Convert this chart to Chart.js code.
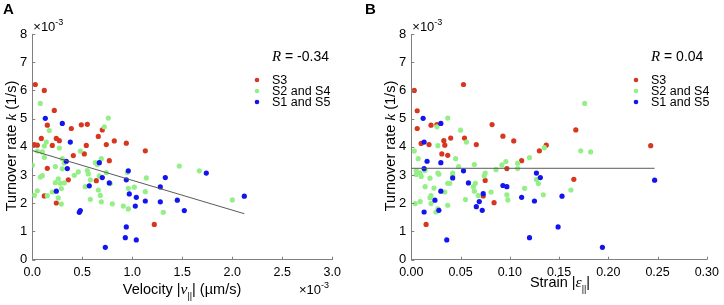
<!DOCTYPE html>
<html>
<head>
<meta charset="utf-8">
<script src="https://cdn.jsdelivr.net/npm/chart.js@4.4.0/dist/chart.umd.min.js"></script>
<style>
  body { margin: 0; background: #fff; }
  .panel { position: absolute; top: 0; width: 362px; height: 305px; }
</style>
</head>
<body>
<div class="panel" style="left:0"><canvas id="chartA" width="362" height="305"></canvas></div>
<div class="panel" style="left:362px"><canvas id="chartB" width="362" height="305"></canvas></div>
<script>
// values are in units of 1e-3 where the axis shows x10^-3

// Panel A: velocity (x1e-3 um/s) vs turnover rate (x1e-3 1/s)
const velS3 = [0.03, 0.12, 0.22, 0.15, 0.39, 0.49, 0.55, 0.70, 0.66, 0.09, 0.24, 0.27, 0.82, 0.94, 0.74,
    0.54, 0.02, 0.05, 0.20, 0.41, 0.52, 1.13, 0.77, 0.15, 0.36, 0.64, 0.12, 0.24, 1.22];
const kVelS3 = [6.21, 6.00, 5.29, 4.77, 4.65, 4.78, 4.80, 4.60, 4.37, 4.30, 4.30, 4.22, 4.21, 4.13, 4.08,
    4.05, 4.08, 4.06, 4.05, 3.69, 3.75, 3.86, 3.51, 3.24, 2.83, 2.80, 2.26, 2.01, 1.25];

const velS24 = [0.08, 0.76, 0.72, 0.17, 0.14, 0.12, 0.27, 0.05, 0.10, 0.48, 0.12, 0.30, 0.69, 0.32, 0.00,
    0.23, 0.63, 0.65, 1.47, 1.67, 0.30, 0.46, 0.55, 0.56, 0.74, 0.95, 0.42, 0.10, 0.08, 0.26,
    0.67, 1.14, 0.23, 0.28, 0.32, 0.58, 0.78, 0.53, 1.02, 0.96, 0.66, 0.29, 0.05, 0.02, 0.15,
    0.68, 1.13, 0.20, 0.26, 0.58, 0.69, 0.80, 0.29, 0.91, 0.96, 2.00, 1.31];
const kVelS24 = [5.54, 5.02, 4.71, 4.58, 4.17, 4.03, 3.96, 3.85, 3.82, 3.85, 3.63, 3.58, 3.58, 3.43, 3.35,
    3.30, 3.44, 3.37, 3.32, 3.15, 3.22, 3.11, 3.16, 3.04, 3.09, 3.09, 2.99, 2.98, 2.93, 2.87,
    2.97, 2.90, 2.73, 2.71, 2.72, 2.83, 2.70, 2.59, 2.57, 2.53, 2.47, 2.52, 2.44, 2.28, 2.27,
    2.28, 2.41, 2.40, 2.19, 2.14, 2.05, 1.98, 1.97, 1.90, 1.80, 2.12, 1.68];

const velS15 = [0.13, 0.30, 0.38, 0.34, 0.35, 0.67, 0.96, 1.33, 0.70, 0.94, 0.77, 1.28, 0.57, 0.97, 0.24,
    1.04, 1.13, 1.28, 1.45, 1.03, 1.52, 0.47, 0.48, 0.94, 0.93, 1.04, 0.73, 1.74, 2.12];
const kVelS15 = [5.01, 4.83, 4.17, 3.49, 3.23, 3.44, 3.15, 2.91, 2.91, 2.83, 2.72, 2.58, 2.62, 2.33, 2.43,
    2.21, 2.08, 2.05, 2.11, 1.90, 1.74, 1.68, 1.74, 1.16, 0.78, 0.70, 0.44, 3.07, 2.25];

const fitVelX = [0, 2.12];
const fitVelY = [3.87, 1.63];

// Panel B: strain vs turnover rate (x1e-3 1/s)
const strainS3 = [0.003, 0.053, 0.006, 0.006, 0.020, 0.026, 0.082, 0.167, 0.093, 0.040, 0.054, 0.104, 0.010, 0.018, 0.033,
    0.034, 0.066, 0.137, 0.243, 0.130, 0.031, 0.037, 0.112, 0.097, 0.075, 0.165, 0.073, 0.084, 0.015];
const kStrainS3 = [6.00, 6.21, 5.28, 4.65, 4.77, 4.79, 4.79, 4.60, 4.38, 4.31, 4.31, 4.21, 4.12, 4.08, 4.22,
    4.06, 4.08, 4.06, 4.04, 3.86, 3.75, 3.70, 3.51, 3.23, 2.81, 2.85, 2.26, 2.02, 1.25];

const strainS24 = [0.176, 0.037, 0.026, 0.050, 0.056, 0.027, 0.003, 0.135, 0.172, 0.182, 0.007, 0.045, 0.120, 0.048, 0.064,
    0.092, 0.096, 0.108, 0.108, 0.086, 0.005, 0.014, 0.009, 0.005, 0.010, 0.027, 0.028, 0.042, 0.042, 0.075,
    0.074, 0.019, 0.037, 0.039, 0.065, 0.127, 0.129, 0.014, 0.063, 0.023, 0.115, 0.162, 0.064, 0.034, 0.081,
    0.020, 0.068, 0.097, 0.134, 0.019, 0.055, 0.098, 0.009, 0.004, 0.020, 0.037, 0.027, 0.025];
const kStrainS24 = [5.54, 5.02, 4.71, 4.59, 4.17, 4.04, 3.85, 3.97, 3.86, 3.82, 3.58, 3.58, 3.62, 3.30, 3.37,
    3.36, 3.48, 3.42, 3.23, 3.19, 3.16, 3.16, 3.08, 3.02, 2.95, 3.07, 3.03, 3.07, 2.98, 3.07,
    2.97, 2.89, 2.71, 2.71, 2.71, 2.84, 2.70, 2.59, 2.59, 2.54, 2.53, 2.47, 2.43, 2.40, 2.40,
    2.27, 2.27, 2.30, 2.30, 2.20, 2.13, 2.12, 2.06, 1.99, 1.99, 1.93, 1.80, 1.69];

const strainS15 = [0.012, 0.030, 0.013, 0.016, 0.030, 0.013, 0.053, 0.042, 0.058, 0.127, 0.131, 0.247, 0.093, 0.097, 0.030,
    0.073, 0.112, 0.153, 0.024, 0.069, 0.125, 0.066, 0.072, 0.013, 0.028, 0.149, 0.120, 0.036, 0.194];
const kStrainS15 = [5.01, 4.83, 4.17, 3.49, 3.44, 3.23, 3.15, 2.90, 2.72, 3.07, 2.91, 2.82, 2.63, 2.59, 2.43,
    2.34, 2.21, 2.25, 2.11, 2.06, 2.08, 1.88, 1.75, 1.69, 1.75, 1.16, 0.78, 0.70, 0.44];

const fitStrainX = [0, 0.247];
const fitStrainY = [3.24, 3.24];

const seriesNames = ['S3', 'S2 and S4', 'S1 and S5'];
const seriesColors = ['#d8371f', '#94ef86', '#1414f0'];

const yTicks = [0, 1, 2, 3, 4, 5, 6, 7, 8];

const SANS = '"Liberation Sans", Arial, sans-serif';
const SERIF = '"Liberation Serif", "DejaVu Serif", serif';
const AXIS_GREY = '#808080';

function pts(xs, ys) {
    return xs.map((x, i) => ({ x: x, y: ys[i] }));
}

// draw a run of differently styled pieces, centred or left aligned at x
function drawRich(ctx, parts, x, y, align) {
    let total = 0;
    parts.forEach(p => { ctx.font = p.font; total += ctx.measureText(p.text).width; });
    let cx = align === 'center' ? x - total / 2 : x;
    ctx.textAlign = 'left';
    ctx.textBaseline = 'alphabetic';
    parts.forEach(p => {
        ctx.font = p.font;
        ctx.fillText(p.text, cx, y + (p.dy || 0));
        cx += ctx.measureText(p.text).width;
    });
}

const decoPlugin = {
    id: 'deco',
    afterDraw(chart, args, o) {
        const ctx = chart.ctx;
        const area = chart.chartArea;
        const xs = chart.scales.x, ys = chart.scales.y;
        ctx.save();

        // inward tick marks
        ctx.strokeStyle = AXIS_GREY;
        ctx.lineWidth = 1;
        ctx.beginPath();
        xs.ticks.forEach(t => {
            const px = Math.round(xs.getPixelForValue(t.value)) + 0.5;
            ctx.moveTo(px, area.bottom);
            ctx.lineTo(px, area.bottom - 3);
        });
        ys.ticks.forEach(t => {
            const py = Math.round(ys.getPixelForValue(t.value)) + 0.5;
            ctx.moveTo(area.left, py);
            ctx.lineTo(area.left + 3, py);
        });
        ctx.stroke();

        ctx.fillStyle = '#000';
        // panel letter
        ctx.font = 'bold 15px ' + SANS;
        ctx.textAlign = 'left';
        ctx.fillText(o.letter, 3, 14);

        // exponent labels
        const expParts = [
            { text: '\u00d710', font: '13px ' + SANS },
            { text: '-3', font: '9px ' + SANS, dy: -6 }
        ];
        drawRich(ctx, expParts, area.left + 1, 31, 'left');
        if (o.xExp) drawRich(ctx, expParts, 299, 294, 'left');

        // x title
        drawRich(ctx, o.xTitle, o.xTitleX, o.xTitleY, 'center');

        // y title, rotated
        ctx.save();
        ctx.translate(o.yTitleX, 146);
        ctx.rotate(-Math.PI / 2);
        drawRich(ctx, [
            { text: 'Turnover rate ', font: '14.5px ' + SANS },
            { text: 'k', font: 'italic 15.5px ' + SERIF },
            { text: ' (1/s)', font: '14.5px ' + SANS }
        ], 0, 0, 'center');
        ctx.restore();

        // correlation
        drawRich(ctx, [
            { text: 'R', font: 'italic 15px ' + SERIF },
            { text: ' = ' + o.r, font: '14px ' + SANS }
        ], o.legendX + 15, 61, 'left');

        // legend
        seriesNames.forEach((name, i) => {
            const ly = 80 + i * 11;
            ctx.fillStyle = seriesColors[i];
            ctx.beginPath();
            ctx.arc(o.legendX, ly, 2.3, 0, Math.PI * 2);
            ctx.fill();
            ctx.fillStyle = '#000';
            ctx.font = '12.5px ' + SANS;
            ctx.textBaseline = 'middle';
            ctx.fillText(name, o.legendX + 15, ly + 1);
        });
        ctx.restore();
    }
};

function makePanel(id, cfg) {
    const dotSet = (label, data, color, order) => ({
        type: 'scatter',
        label: label,
        data: data,
        backgroundColor: color,
        borderWidth: 0,
        pointRadius: 2.6,
        order: order
    });
    return new Chart(document.getElementById(id), {
        type: 'scatter',
        data: {
            datasets: [
                {
                    type: 'line',
                    label: 'fit',
                    data: cfg.fit,
                    borderColor: '#5a5a5a',
                    borderWidth: 1,
                    pointRadius: 0,
                    fill: false,
                    order: 0
                },
                dotSet(seriesNames[0], cfg.s3, seriesColors[0], 3),
                dotSet(seriesNames[1], cfg.s24, seriesColors[1], 2),
                dotSet(seriesNames[2], cfg.s15, seriesColors[2], 1)
            ]
        },
        options: {
            responsive: false,
            animation: false,
            layout: { padding: { top: 34, right: cfg.padRight, left: 0, bottom: 0 } },
            plugins: {
                legend: { display: false },
                tooltip: { enabled: false },
                deco: cfg.deco
            },
            scales: {
                x: {
                    type: 'linear',
                    min: 0,
                    max: cfg.xMax,
                    afterBuildTicks: s => { s.ticks = cfg.xTicks.map(v => ({ value: v })); },
                    ticks: {
                        color: '#000',
                        font: { family: SANS, size: 12.5 },
                        padding: 5,
                        maxRotation: 0,
                        callback: v => v.toFixed(cfg.xDigits)
                    },
                    grid: { display: false, drawTicks: false },
                    border: { display: true, color: AXIS_GREY, width: 1 },
                    afterFit: s => { s.height = 45.3; }
                },
                y: {
                    type: 'linear',
                    min: 0,
                    max: 8,
                    afterBuildTicks: s => { s.ticks = yTicks.map(v => ({ value: v })); },
                    ticks: {
                        color: '#000',
                        font: { family: SANS, size: 13 },
                        padding: 5
                    },
                    grid: { display: false, drawTicks: false },
                    border: { display: true, color: AXIS_GREY, width: 1 },
                    afterFit: s => { s.width = cfg.yWidth; }
                }
            }
        },
        plugins: [decoPlugin]
    });
}

makePanel('chartA', {
    s3: pts(velS3, kVelS3),
    s24: pts(velS24, kVelS24),
    s15: pts(velS15, kVelS15),
    fit: pts(fitVelX, fitVelY),
    xMax: 3,
    xTicks: [0, 0.5, 1, 1.5, 2, 2.5, 3],
    xDigits: 1,
    yWidth: 32.3,
    padRight: 29.7,
    deco: {
        letter: 'A',
        xExp: true,
        r: '-0.34',
        legendX: 257,
        yTitleX: 16,
        xTitleX: 182,
        xTitleY: 294,
        xTitle: [
            { text: 'Velocity |', font: '14.5px ' + SANS },
            { text: 'v', font: 'italic 15.5px ' + SERIF },
            { text: '||', font: '9px ' + SANS, dy: 5 },
            { text: '| (\u00b5m/s)', font: '14.5px ' + SANS }
        ]
    }
});

makePanel('chartB', {
    s3: pts(strainS3, kStrainS3),
    s24: pts(strainS24, kStrainS24),
    s15: pts(strainS15, kStrainS15),
    fit: pts(fitStrainX, fitStrainY),
    xMax: 0.3,
    xTicks: [0, 0.05, 0.1, 0.15, 0.2, 0.25, 0.3],
    xDigits: 2,
    yWidth: 49.3,
    padRight: 13,
    deco: {
        letter: 'B',
        xExp: false,
        r: '0.04',
        legendX: 274,
        yTitleX: 32.5,
        xTitleX: 198,
        xTitleY: 287,
        xTitle: [
            { text: 'Strain |', font: '14.5px ' + SANS },
            { text: '\u03b5', font: 'italic 15.5px ' + SERIF },
            { text: '||', font: '9px ' + SANS, dy: 5 },
            { text: '|', font: '14.5px ' + SANS }
        ]
    }
});
</script>
</body>
</html>
